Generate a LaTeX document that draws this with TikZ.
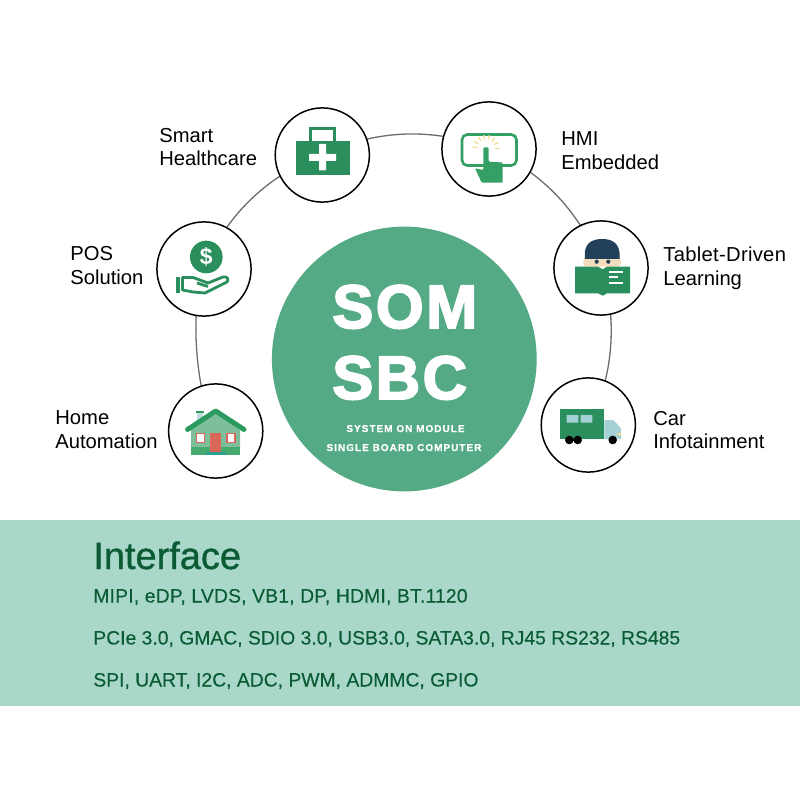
\documentclass[tikz,border=0pt]{standalone}
\usepackage{fontspec}
\usetikzlibrary{backgrounds}
\setmainfont{Liberation Sans}
\definecolor{hubgreen}{HTML}{53AA85}
\definecolor{iconGreen}{HTML}{2A8F5C}
\definecolor{touchgreen}{HTML}{35A066}
\definecolor{bandgreen}{HTML}{A9D8CB}
\definecolor{darkgreen}{HTML}{0B5C35}
\definecolor{ringgrey}{HTML}{6E6E6E}
\definecolor{raysyellow}{HTML}{F2DC8C}
\definecolor{glass}{HTML}{A5D0D5}
\definecolor{hairblue}{HTML}{22405A}
\definecolor{skin}{HTML}{F4DDBE}
\definecolor{wallgreen}{HTML}{7DBF9A}
\definecolor{basegreen}{HTML}{46AA6F}
\definecolor{roofgreen}{HTML}{2A9A5E}
\definecolor{doorred}{HTML}{D9685A}
\definecolor{stepteal}{HTML}{2E9E8E}
\tikzset{usecase/.style={draw=black,line width=0.85pt,fill=white,circle,minimum size=53.6pt,inner sep=0pt},
         caption/.style={anchor=west,inner sep=0pt,align=left,font=\fontsize{11.5}{13.5}\selectfont},
         ring/.style={draw=ringgrey,line width=0.75pt},
         bigword/.style={anchor=base west,inner sep=0pt,text=white,font=\fontsize{35}{35}\selectfont\bfseries\addfontfeature{LetterSpace=4,FakeBold=3}},
         subline/.style={anchor=base,inner sep=0pt,text=white,font=\fontsize{5.7}{7}\selectfont\bfseries\addfontfeature{LetterSpace=10,FakeBold=0.5}},
         busline/.style={anchor=base west,inner sep=0pt,text=darkgreen,font=\fontsize{11}{12}\selectfont\addfontfeature{FakeBold=0.3}}
         }
\begin{document}
\begin{tikzpicture}[x=0.02cm,y=-0.02cm]
\useasboundingbox (0,0) rectangle (800,800);
\fill[bandgreen] (0,520) rectangle (800,706);
% the ring
\node[usecase] (health) at (322.3,155) {};
\node[usecase] (hmi) at (489,149) {};
\node[usecase] (tablet) at (601,268) {};
\node[usecase] (car) at (588.3,425) {};
\node[usecase] (home) at (215.7,431) {};
\node[usecase] (pos) at (204,269) {};
\begin{pgfonlayer}{background}
\draw[ring] (health.center) to[bend left=24,looseness=0.9] (hmi.center);
\draw[ring] (hmi.center) to[bend left=24,looseness=0.9] (tablet.center);
\draw[ring] (tablet.center) to[bend left=24,looseness=0.85] (car.center);
\draw[ring] (home.center) to[bend left=24,looseness=0.68] (pos.center);
\draw[ring] (pos.center) to[bend left=24,looseness=0.9] (health.center);
\end{pgfonlayer}
% centre
\node[circle,fill=hubgreen,minimum size=150.7pt,inner sep=0pt] (hub) at (404.3,359) {};
\node[bigword] (som) at (332,328) {SOM};
\node[bigword] (sbc) at (332,399) {SBC};
\node[subline] (sysmod) at (405.5,432) {SYSTEM ON MODULE};
\node[subline] (sbcomp) at (404,451) {SINGLE BOARD COMPUTER};
% healthcare
\fill[iconGreen] (295.7,140.7) rectangle (350,174.7);
\draw[iconGreen,line width=1.7pt] (310.5,141) -- (310.5,128.5) -- (334.5,128.5) -- (334.5,141);
\fill[white] (309,153.8) rectangle (336,160.8) (319,144) rectangle (326,170.5);
% hmi
\draw[touchgreen,line width=1.5pt,rounded corners=3pt] (462,134.5) rectangle (516.5,165.5);
\foreach \a in {0,25,50,75,100,125,150,175}
  \draw[raysyellow,line width=0.7pt] (486,148.3) ++(-\a:9) -- ++(-\a:4.5);
\fill[touchgreen,rounded corners=0.6pt] (483.3,150) -- (483.3,147.5) -- (488.7,147.5) -- (488.7,161.7) -- (502.7,162.5) -- (502.7,182.7) -- (481.7,182.7) -- (475,168.3) -- (483.3,170) -- cycle;
% tablet
\fill[skin,rounded corners=2pt] (583.3,257) rectangle (621,266.7);
\fill[hairblue] (585,259) .. controls (583,243) and (592,239) .. (602.3,239) .. controls (612,239) and (621,243) .. (619.6,259) -- cycle;
\fill[hairblue] (596.7,261.7) circle (2.1) (608.3,261.7) circle (2.1);
\fill[iconGreen] (575,266.7) -- (598,266.7) -- (602.7,269.3) -- (607,266.7) -- (630,266.7) -- (630,293.3) -- (607,293.3) -- (602.7,295.7) -- (598,293.3) -- (575,293.3) -- cycle;
\draw[white,line width=1.1pt] (609.3,271.7) -- (623.3,271.7) (609.3,277.3) -- (617.7,277.3) (609.3,282.7) -- (623.3,282.7);
% car
\fill[iconGreen] (559.7,409.3) rectangle (604.3,439);
\fill[glass] (566.7,415) rectangle (578.3,422.7) (580.7,415) rectangle (592.3,422.7);
\fill[glass] (604.3,420) -- (613.3,420) -- (621,428.3) -- (621,439) -- (604.3,439) -- cycle;
\fill[raysyellow] (616.7,433.3) rectangle (621,434.7);
\fill[black] (569.3,440) circle (4.3) (577.7,440) circle (4.3) (612.7,440) circle (4.3);
% home
\fill[glass!70!white] (197,412) rectangle (203.3,422);
\fill[roofgreen] (196,410.7) rectangle (204.3,412.7);
\fill[wallgreen] (191,430) -- (215.7,412) -- (240,430) -- (240,447) -- (191,447) -- cycle;
\fill[basegreen] (191,446.7) rectangle (240,455);
\draw[roofgreen,line width=2.8pt,line cap=round,line join=round] (187.5,429.5) -- (215.7,411) -- (244,429.5);
\fill[white,draw=doorred,line width=0.7pt] (196.5,433.5) rectangle (204.5,442.5) (227,433.5) rectangle (235,442.5);
\fill[doorred] (210,433.3) rectangle (221.3,451.7);
\fill[stepteal] (206,451.7) rectangle (225.7,455);
% pos
\node[circle,fill=iconGreen,minimum size=18.6pt,inner sep=0pt,text=white,font=\fontsize{13}{13}\selectfont\bfseries] (coin) at (206.3,257) {\$};
\fill[iconGreen] (175.5,276.7) rectangle (179.5,293.3);
\draw[iconGreen,line width=1.6pt,line join=round] (182.5,277.5) -- (193,277.5) -- (208,283) -- (223,277) .. controls (228,276) and (229,280) .. (227,282) -- (205,293) -- (193,292) -- (182.5,290) -- cycle;
\draw[iconGreen,line width=1.6pt] (197,283) -- (208,286.5);
% labels
\node[caption] (healthlbl) at (159,147) {Smart\\Healthcare};
\node[caption] (poslbl) at (70,265.5) {POS\\Solution};
\node[caption] (homelbl) at (55,430) {Home\\Automation};
\node[caption] (hmilbl) at (561,151) {HMI\\Embedded};
\node[caption] (tabletlbl) at (663,268) {{\addfontfeature{LetterSpace=1.5}Tablet-Driven}\\Learning};
\node[caption] (carlbl) at (653,430) {Car\\Infotainment};
% interface band
\node[anchor=base west,inner sep=0pt,text=darkgreen,font=\fontsize{21.6}{24}\selectfont\addfontfeature{FakeBold=1}] (iftitle) at (93,569) {Interface};
\node[busline] (busa) at (93,602.5) {\addfontfeature{LetterSpace=1}MIPI, eDP, LVDS, VB1, DP, HDMI, BT.1120};
\node[busline] (busb) at (93,644.5) {PCIe 3.0, GMAC, SDIO 3.0, USB3.0, SATA3.0, RJ45 RS232, RS485};
\node[busline] (busc) at (93,686.5) {SPI, UART, I2C, ADC, PWM, ADMMC, GPIO};
\end{tikzpicture}
\end{document}
